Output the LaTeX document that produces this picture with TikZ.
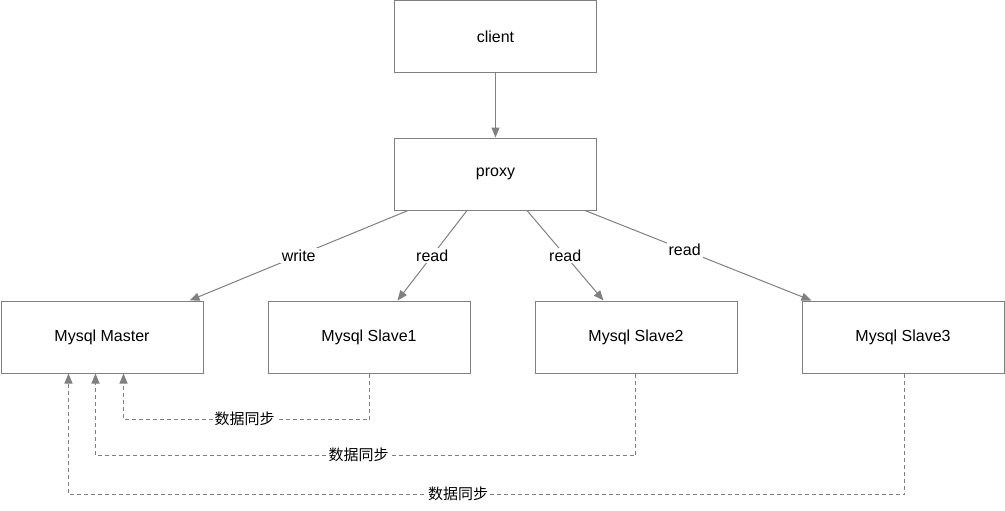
\documentclass[tikz,border=0pt]{standalone}
\usepackage{fontspec}
\setmainfont{Liberation Sans}
\newfontfamily\cjk{Noto Sans CJK SC}
\usetikzlibrary{arrows.meta}
\definecolor{ln}{HTML}{808080}
\tikzset{
  box/.style={draw=ln, line width=1pt, minimum width=202pt, minimum height=72pt, inner sep=0pt, font=\fontsize{16}{19}\selectfont},
  conn/.style={draw=ln, line width=1pt, -{Triangle[length=10pt,width=8pt]}},
  dconn/.style={conn, dash pattern=on 4pt off 3pt},
  lbl/.style={fill=white, inner sep=2pt, font=\fontsize{16}{19}\selectfont},
  clbl/.style={fill=white, inner sep=2pt, font=\cjk\fontsize{15}{18}\selectfont}
}
\begin{document}
\begin{tikzpicture}[x=1pt,y=-1pt]
\useasboundingbox (0,0) rectangle (1005,511);
\node[box] (client) at (495.5,37) {client};
\node[box] (proxy) at (495.5,174) {proxy};
\node[box] (master) at (102,337) {Mysql Master};
\node[box] (s1) at (369,337) {Mysql Slave1};
\node[box] (s2) at (636,337) {Mysql Slave2};
\node[box] (s3) at (903,337) {Mysql Slave3};

\draw[conn] (client.south) -- (proxy.north);
\draw[conn] ([xshift=14pt]proxy.south west) -- node[lbl, pos=0.5] {write} ([xshift=189pt]master.north west);
\draw[conn] ([xshift=73pt]proxy.south west) -- node[lbl, pos=0.5] {read} ([xshift=130pt]s1.north west);
\draw[conn] ([xshift=133pt]proxy.south west) -- node[lbl, pos=0.5] {read} ([xshift=69pt]s2.north west);
\draw[conn] ([xshift=191pt]proxy.south west) -- node[lbl, pos=0.44] {read} ([xshift=10pt]s3.north west);

\draw[dconn] ([xshift=102pt]s1.south west) -- ++(0,46) coordinate (d1) -| ([xshift=123pt]master.south west);
\draw[dconn] ([xshift=101pt]s2.south west) -- ++(0,82) coordinate (d2) -| ([xshift=95pt]master.south west);
\draw[dconn] ([xshift=103pt]s3.south west) -- ++(0,121) coordinate (d3) -| ([xshift=68pt]master.south west);
\node[clbl] (l1) at (244.5,419) {数据同步};
\node[clbl] (l2) at (358.5,455) {数据同步};
\node[clbl] (l3) at (458,494) {数据同步};
\end{tikzpicture}
\end{document}
